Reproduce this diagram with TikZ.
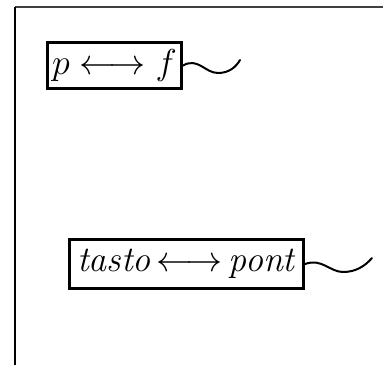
\RequirePackage{fix-cm}
\documentclass[tikz,border=0pt]{standalone}
\usepackage{amsmath}
\usetikzlibrary{arrows.meta,positioning}

\begin{document}
\begin{tikzpicture}[x=1pt,y=-1pt,
      tag/.style={draw=black,line width=3pt,fill=white,inner sep=1pt,
                  font=\fontsize{36}{40}\selectfont,align=center},
      tail/.style={line width=2pt,draw=black,line cap=round},
      frame/.style={line width=1.6pt,draw=black}]
    \useasboundingbox (0,0) rectangle (383,365);
    \coordinate (corner) at (15,7);
    \draw[frame,draw=black!75] (corner) -- (383,7);
    \draw[frame] (corner) -- (15,365);
    \node[tag,minimum width=134pt,minimum height=46pt] (pf) at (114.5,65.5) {$p\longleftrightarrow f$};
    \coordinate (pfend) at (240,60);
    \draw[tail] (pf.east) .. controls (198,57) and (205,73) .. (218,73) .. controls (229,73) and (236,67) .. (pfend);
    \node[tag,minimum width=234pt,minimum height=49pt] (tp) at (186.5,264) {\textit{tasto}\,$\longleftrightarrow$\,\textit{pont}};
    \coordinate (tpend) at (372,258);
    \draw[tail] (tp.east) .. controls (322,258) and (330,272) .. (343,272) .. controls (356,272) and (365,266) .. (tpend);
\end{tikzpicture}
\end{document}
